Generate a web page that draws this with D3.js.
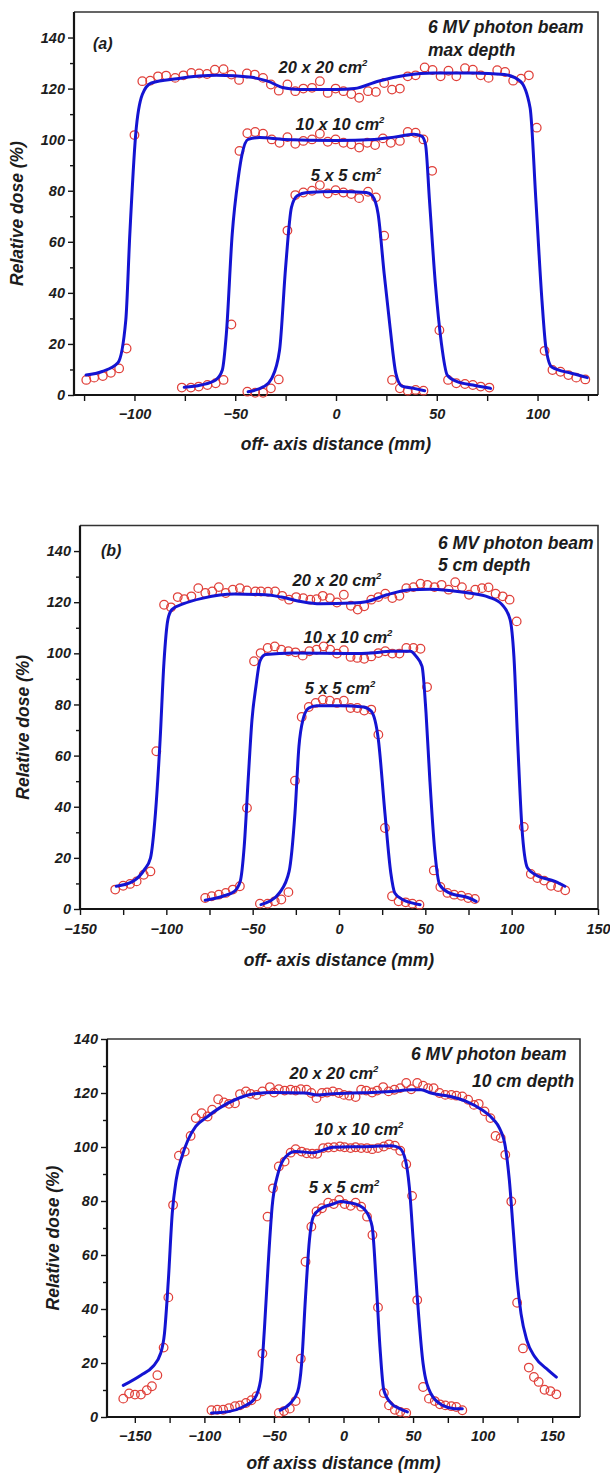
<!DOCTYPE html>
<html>
<head>
<meta charset="utf-8">
<script src="https://cdn.jsdelivr.net/npm/d3@7"></script>
<style>
  body { margin: 0; background: #fff; }
  svg text { font-family: "Liberation Sans", Arial, sans-serif; font-style: italic; font-weight: bold; fill: #1c1c1c; }
</style>
</head>
<body>
<svg id="chart" width="610" height="1474"></svg>
<script>
// ---------- data ----------
const fieldSizes = ["20 x 20", "10 x 10", "5 x 5"];
const yTickValues = [0, 20, 40, 60, 80, 100, 120, 140];
const yMinorValues = [10, 30, 50, 70, 90, 110, 130];
const xTicksA = [-100, -50, 0, 50, 100];
const xMinorA = [-125, -75, -25, 25, 75, 125];
const xTicksBC = [-150, -100, -50, 0, 50, 100, 150];
const xMinorBC = [-125, -75, -25, 25, 75, 125];

// (a) max depth — calculated profiles [mm, %]
const a20Calc = [[-124,7.8],[-116,9.2],[-108.2,12.6],[-104.3,29.3],[-102.3,63],[-99.4,102],[-96.1,117.7],[-91.6,122.2],[-78.9,123.9],[-59.3,125.2],[-41.7,124.4],[-33.9,122.9],[-26,120.3],[-18.2,119.6],[0,119.6],[9.2,120],[20.9,122.9],[34.6,125.2],[48.3,126.1],[67.9,126.1],[83.6,125.5],[91.4,122.9],[96.3,112.5],[99.2,76],[102.2,37],[104.1,18.9],[107,11],[116.8,8.5],[124.7,6.8]];
const a10Calc = [[-75.3,3.0],[-67.1,3.9],[-59.7,5.9],[-56.4,9.8],[-54.4,24],[-51.5,63],[-48.5,85],[-46.6,94.3],[-43.6,100.1],[-37.8,100.8],[-26,100.1],[0,99.7],[19,100.1],[28.8,101],[38.6,102.1],[42.5,101.4],[44.4,98.2],[46.4,76],[49.3,43.6],[52.3,20.2],[55.2,7.8],[60.1,5.2],[67.9,3.9],[76.7,2.6]];
const a5Calc = [[-43.6,1.3],[-35.8,3.3],[-31.9,6.5],[-28,17.6],[-25,50],[-22.1,73.5],[-19.2,78],[-14.3,79.3],[0,79.7],[15.1,79.3],[18,78],[20.9,70.9],[23.9,47.5],[26.8,26.7],[29.7,8.5],[32.7,3.5],[38.6,2.6],[44,1.7]];
// (a) measured points
const a20Meas = [[-123.9,5.9],[-120,6.8],[-115.7,7.4],[-111.7,8.7],[-107.6,10.4],[-103.9,18.2],[-100,101.8],[-96.1,122.9],[-92.2,123.1],[-88.3,124.8],[-84.3,125.1],[-79.8,124.2],[-75.7,125.2],[-71.8,126.1],[-67.9,125.9],[-64,125.7],[-60.1,127.4],[-55.8,127.6],[-51.9,125.5],[-48.1,123.4],[-44.2,125.9],[-40.3,125.5],[-36.2,124.2],[-32.3,121.6],[-28.4,119.2],[-24.1,121.6],[-20.2,119],[-16.2,120],[-11.9,120.3],[-8,122.9],[-4.1,118.3],[-0.2,120],[3.7,119],[7.6,117.9],[11.5,116.4],[15.9,119],[19.8,118.7],[23.9,122.2],[27.8,119.6],[31.7,120],[35.6,124.8],[39.5,125.2],[44,128.3],[47.9,127.3],[51.9,124.8],[55.8,127],[59.7,124.8],[64,128],[67.9,127.4],[71.8,125.2],[75.7,124.2],[80,127.2],[83.9,126.5],[87.9,123.1],[91.8,123.9],[95.7,125.2],[99.6,104.7],[103.5,17.3],[107.4,9.8],[111.4,9.1],[115.3,7.8],[119.2,6.8],[123.7,6.1]];
const a10Meas = [[-76.5,2.9],[-72,2.9],[-68.1,3.3],[-63.8,3.9],[-59.7,4.6],[-55.8,5.9],[-51.9,27.6],[-47.9,95.6],[-44,102.5],[-40.1,103],[-36.2,102.3],[-31.9,100.1],[-28,98.8],[-24.1,101],[-20.2,98.4],[-16.2,99.5],[-11.9,100.1],[-8,102.3],[-4.1,99.2],[-0.2,100.1],[3.7,98.8],[7.6,98.2],[11.5,96.9],[15.5,98.8],[19.4,97.9],[23.3,100.5],[27.2,98.8],[31.7,99.5],[35.6,103],[39.5,102.7],[43.4,100.1],[47.7,87.8],[51.3,25.4],[55.6,5.9],[59.7,4.6],[64,4.3],[67.9,3.9],[71.8,3.3],[76.1,2.9]];
const a5Meas = [[-44,1.3],[-40.1,0.9],[-36.2,0.9],[-32.3,2.6],[-28.4,6.1],[-24.1,64.4],[-20.2,78.3],[-16.2,79.3],[-11.9,80],[-8,82.2],[-4.1,78.9],[-0.2,80.2],[3.7,79.3],[7.6,78.7],[11.5,77.1],[15.9,79.6],[19.8,77.4],[23.9,62.4],[27.8,5.9],[31.7,2.6],[35.6,1.7],[39.5,2],[43.4,1.7]];

// (b) 5 cm depth — calculated profiles
const b20Calc = [[-129,8.9],[-119.4,10.8],[-112.7,15.4],[-109.2,19.9],[-106.3,37.5],[-103.6,66.2],[-101.4,96.2],[-99.1,113.2],[-96.8,117.1],[-90,119.4],[-78.7,121.6],[-60.6,123.2],[-42.5,122.9],[-33.4,122],[-22.1,120.3],[-10.8,119.4],[7.4,119.7],[16.4,120.3],[27.7,122.9],[41.3,124.9],[52.6,125.1],[63.9,124.6],[75.3,123.6],[86.6,122],[94.5,119],[99.1,113.2],[101.3,98.8],[103.6,63.6],[105.9,32.3],[109.2,16],[113.8,13.4],[125.1,10.8],[130.8,8.9]];
const b10Calc = [[-77.5,3.4],[-67.3,5],[-60.6,6.9],[-57.2,10.8],[-54.9,24.5],[-52.6,50.6],[-50.4,74],[-48.1,87.1],[-45.8,96.9],[-42.5,99.5],[-26.6,100.1],[7.4,99.9],[18.7,100.1],[30,100.8],[41.3,100.8],[44.7,98.8],[48.1,94.9],[50.4,76.7],[52.6,50.6],[55.4,23.2],[58.3,9.5],[63.9,6.3],[75.3,4.3],[79.4,3]];
const b5Calc = [[-45.2,1.7],[-40.2,3],[-34.5,6.3],[-28.9,14.7],[-25.5,37.5],[-23.2,63.6],[-20.9,74],[-17.5,78.6],[-13,79.5],[0.6,79.5],[14.2,79],[18.7,77.3],[22.8,66.2],[26.6,37.5],[30,14.1],[32.3,6.3],[36.8,3.7],[47,1.7]];
// (b) measured points
const b20Meas = [[-129.6,7.6],[-125,9.1],[-121,9.8],[-117.2,10.8],[-113.1,13.4],[-109.2,14.7],[-105.8,61.7],[-101.3,119],[-97.3,118],[-93.4,122],[-89.6,121.2],[-85.5,122.3],[-81.5,125.5],[-77.4,123.6],[-73.4,124.2],[-69.6,125.9],[-65.6,123.6],[-61.5,124.9],[-57.4,125.5],[-53.3,124.6],[-48.4,124.2],[-45.2,124.2],[-41.1,124.1],[-37,124.2],[-32.9,122.5],[-28.9,121],[-24.8,122],[-20.7,121.6],[-16.6,121],[-13,121.2],[-9.4,122.5],[-5.3,121.6],[-1.2,119.9],[2.8,122.9],[6.9,118.6],[10.8,117.1],[14.6,118.4],[18.7,121],[22.8,122],[26.8,123.3],[30.9,121.6],[35,122.5],[39,125.5],[43.1,125.9],[47.2,127.2],[51.2,126.8],[55.3,125.9],[59.4,126.8],[63.5,124.9],[67.3,127.8],[71.2,125.9],[75.3,122.9],[78.9,124.9],[82.8,125.5],[86.6,125.8],[90.7,123.3],[94.8,122.3],[98.8,121],[102.9,112.5],[107,32.1],[111.1,13.7],[114.9,12.1],[118.8,11.1],[122.8,9.1],[126.9,8.6],[131,7.3]];
const b10Meas = [[-77.5,4.3],[-73.7,5],[-69.6,5.6],[-65.6,6.3],[-61.5,7.6],[-57.4,8.9],[-53.3,39.5],[-49.2,96.9],[-45.4,100.1],[-41.3,102.1],[-37.2,102.7],[-33.4,101.4],[-29.3,100.8],[-25.2,100.4],[-21,99.1],[-17.1,100.8],[-13,101.4],[-8.9,102.7],[-5.1,101.4],[-1.2,99.9],[2.8,101.2],[6.7,98.6],[10.6,98.2],[14.6,97.9],[18.7,98.8],[22.8,100.1],[26.8,100.8],[30.9,99.9],[35,99.9],[39,102.1],[43.1,102.1],[47.2,101.8],[51,86.8],[54.9,15.1],[58.7,8.6],[62.8,6.3],[66.7,5.6],[70.8,5.2],[74.8,4.3],[78.7,3.9]];
const b5Meas = [[-45.8,2.1],[-41.3,2.1],[-37.2,3],[-33.4,3.7],[-29.3,6.6],[-25.5,50.2],[-21.6,75.1],[-17.5,79],[-13.5,80.6],[-9.4,81.9],[-5.3,81.5],[-1.2,80.6],[2.8,81.5],[6.7,78.6],[10.6,78.6],[14.6,77.6],[18.7,78],[22.8,68.2],[26.6,31.7],[30.7,5],[34.5,3],[38.6,2.6],[42.5,2.1],[46.6,1.7]];

// (c) 10 cm depth — calculated profiles
const c20Calc = [[-158.3,11.7],[-145.6,15.5],[-137.2,18.6],[-131.5,23.5],[-128.7,30.9],[-125.9,50.7],[-123.1,75.4],[-120.3,87.8],[-116.1,96.5],[-111.8,102.6],[-106.2,107.6],[-97.7,111.3],[-89.3,114.4],[-78,117.5],[-63.9,119.7],[-49.9,120.2],[-27.3,120],[-18.9,119.3],[-7.6,119.7],[6.5,120],[20.6,120.2],[34.6,120.6],[48.7,121.2],[55.8,121.2],[62.8,120],[76.9,118.7],[88.2,116.9],[99.4,113.8],[107.9,110.1],[112.1,107],[116.3,100.2],[119.2,87.8],[122,69.3],[124.8,50.7],[127.6,38.3],[131.8,28.4],[137.5,22.3],[147.3,17.3],[153,14.8]];
const c10Calc = [[-94.9,1.5],[-83.7,1.9],[-72.4,3.7],[-63.9,6.8],[-59.6,13.6],[-56.9,32.2],[-54.1,56.9],[-51.3,77.9],[-47,90.3],[-41.4,96.5],[-34.4,98.3],[-21.7,97.9],[-7.6,99.9],[20.6,100.2],[34.6,100.5],[40.3,99.6],[44.5,95.2],[47.3,85.3],[50.1,65.5],[53,44.5],[57.2,19.8],[62.8,8.7],[71.3,4.3],[79.7,3.1],[85.4,3.1]];
const c5Calc = [[-45.6,2.5],[-38.6,4.9],[-33,9.3],[-30.1,19.8],[-27.3,44.5],[-24.5,65.5],[-21.7,74.2],[-16,77.3],[-7.6,78.9],[-2,79.8],[3.7,79.4],[10.7,78.5],[16.3,76.1],[20.6,70.5],[23.4,50.7],[26.2,26],[29,9.9],[34.6,4.9],[40.3,3.1],[45.9,1.9]];
// (c) measured points
const c20Meas = [[-158.3,6.8],[-154.1,8.7],[-149.9,8.3],[-145.6,8.3],[-141.4,9.9],[-137.7,11.4],[-133.8,15.5],[-129.3,25.7],[-125.9,44.3],[-122.5,78.5],[-118.3,96.8],[-114.1,98.3],[-109.9,104.1],[-106.2,110.7],[-102,112.5],[-97.7,111.3],[-94.4,113.8],[-90.1,117.7],[-85.9,116.5],[-82.3,116],[-78,116.2],[-74.4,119.6],[-70.1,120.6],[-66.8,119.7],[-62.5,119.3],[-58.3,120.6],[-52.9,122.2],[-49.9,120.2],[-46.5,121.4],[-42.3,120.9],[-38,121.2],[-34.4,120.9],[-30.7,121.4],[-26.5,121.2],[-23.1,120],[-19.4,118.1],[-15.5,120],[-11.8,120.2],[-7.6,120.6],[-3.4,120],[0.3,119.3],[4.2,119],[8.7,118.5],[12.7,121.2],[16.3,120.9],[20.6,120.2],[24.2,120.9],[28.5,122.2],[32.4,120.6],[36.6,121.2],[40.8,121.8],[45.1,123.7],[48.7,121.4],[53,123.7],[57.2,122.7],[60.8,121.8],[64.8,121.8],[69,120],[73.2,119.3],[77.5,119.3],[81.1,119],[85.4,118.7],[89.6,117.5],[93.8,115.6],[97.2,116],[101.4,113.2],[105.6,110.7],[109.3,104.1],[113,103.3],[116.3,97.1],[120.6,79.8],[124.8,42.3],[129,25.4],[133.2,18.3],[136.9,14.8],[140.3,13],[144.5,10.1],[148.7,9.6],[153,8.4]];
const c10Meas = [[-94.9,2.5],[-90.7,2.7],[-86.5,2.7],[-82.3,3.3],[-78,4],[-74.4,4.3],[-70.1,5.2],[-66.2,6.2],[-62.5,7.7],[-58.3,23.5],[-54.6,74.2],[-50.7,84.7],[-46.5,92.8],[-42.3,94.6],[-38,97.9],[-34.4,99.2],[-30.1,98.3],[-26.5,97.7],[-22.5,97.5],[-18.9,97.5],[-14.6,99.6],[-11,99.8],[-6.8,99.9],[-2.5,100.2],[0.8,99.9],[5.1,99.6],[8.7,99.9],[12.7,99.6],[16.9,99.6],[20.6,99.2],[24.8,99.6],[29,100.2],[32.7,101],[36.9,100.5],[40.8,98.6],[45.1,93.6],[49.3,81.9],[53,43.3],[57.2,11.1],[61.4,6.8],[65.6,5.9],[69.3,4.7],[73.2,4.3],[77.5,4],[81.1,3.7],[85.4,2.5]];
const c5Meas = [[-46.5,1.5],[-42.8,2.2],[-38.6,3.1],[-34.4,5.9],[-30.7,21.6],[-27.3,57.5],[-23.1,70.5],[-19.4,76.1],[-15.5,77.3],[-11,79.4],[-7,78.9],[-3.1,80.4],[0.8,78.9],[5.1,78.2],[8.7,79.4],[12.7,77.9],[16.9,74.2],[20.8,67.4],[24.8,40.6],[29,8.9],[32.7,4.3],[36.9,2.7],[40.8,1.9],[45.1,1.5]];

// ---------- layout ----------
const panels = [
  {
    left: 74, right: 598, top: 12, bottom: 395, xDomain: [-130, 130], yMax: 150,
    xTicks: xTicksA, xMinor: xMinorA, xTitle: "off- axis distance (mm)",
    tag: "(a)", tagPos: [93, 49], note: ["6 MV photon beam", "max depth"], notePos: [[428, 33], [428, 56]],
    yTitleX: 23, xTickY: 419, xTitleY: 450,
    series: [[a20Calc, a20Meas, [323, 73]], [a10Calc, a10Meas, [340, 130]], [a5Calc, a5Meas, [346, 181]]]
  },
  {
    left: 80, right: 598, top: 525.5, bottom: 909, xDomain: [-150, 150], yMax: 150,
    xTicks: xTicksBC, xMinor: xMinorBC, xTitle: "off- axis distance (mm)",
    tag: "(b)", tagPos: [101, 556], note: ["6 MV photon beam", "5 cm depth"], notePos: [[438, 549], [438, 571]],
    yTitleX: 29, xTickY: 934, xTitleY: 966,
    series: [[b20Calc, b20Meas, [337, 586]], [b10Calc, b10Meas, [348, 643]], [b5Calc, b5Meas, [340, 694]]]
  },
  {
    left: 107, right: 580, top: 1039, bottom: 1417, xDomain: [-170, 170], yMax: 140,
    xTicks: xTicksBC, xMinor: xMinorBC, xTitle: "off axiss distance (mm)",
    tag: null, note: ["6 MV photon beam", "10 cm depth"], notePos: [[411, 1060], [472, 1087]],
    yTitleX: 59, xTickY: 1441, xTitleY: 1469,
    series: [[c20Calc, c20Meas, [334, 1079]], [c10Calc, c10Meas, [359, 1135]], [c5Calc, c5Meas, [344, 1193]]]
  }
];

const svg = d3.select("#chart");
const AXIS = "#141414";

function styleAxis(sel, fontSize) {
  sel.attr("font-size", fontSize).attr("font-family", null);
  sel.select(".domain").remove();
  sel.selectAll(".tick line").attr("stroke", AXIS).attr("stroke-width", 1.4);
  sel.selectAll(".tick text").attr("fill", "#1c1c1c");
}

function drawPanel(p) {
  const x = d3.scaleLinear().domain(p.xDomain).range([p.left, p.right]);
  const y = d3.scaleLinear().domain([0, p.yMax]).range([p.bottom, p.top]);
  const g = svg.append("g");

  // frame: thin top/right, heavier left/bottom
  g.append("path")
    .attr("d", `M${p.left},${p.top}H${p.right}V${p.bottom}`)
    .attr("fill", "none").attr("stroke", "#333").attr("stroke-width", 1.6);

  // y axis
  g.append("g").attr("transform", `translate(${p.left},0)`)
    .call(d3.axisLeft(y).tickValues(yTickValues).tickSize(6).tickPadding(3).tickSizeOuter(0))
    .call(s => styleAxis(s, 14.5));
  g.append("g").attr("transform", `translate(${p.left},0)`)
    .call(d3.axisLeft(y).tickValues(yMinorValues).tickSize(4).tickFormat("").tickSizeOuter(0))
    .call(s => styleAxis(s, 14.5));

  // x axis
  const xa = g.append("g").attr("transform", `translate(0,${p.bottom})`)
    .call(d3.axisBottom(x).tickValues(p.xTicks).tickSize(6).tickPadding(0).tickSizeOuter(0))
    .call(s => styleAxis(s, 14.5));
  xa.selectAll(".tick text").attr("dy", null).attr("y", p.xTickY - p.bottom);
  g.append("g").attr("transform", `translate(0,${p.bottom})`)
    .call(d3.axisBottom(x).tickValues(p.xMinor).tickSize(6).tickFormat("").tickSizeOuter(0))
    .call(s => styleAxis(s, 14.5));

  // heavy axis lines
  g.append("path")
    .attr("d", `M${p.left},${p.top}V${p.bottom}H${p.right}`)
    .attr("fill", "none").attr("stroke", AXIS).attr("stroke-width", 2.2);

  // measured points
  const line = d3.line().x(d => x(d[0])).y(d => y(d[1])).curve(d3.curveMonotoneX);
  p.series.forEach(([calc, meas]) => {
    g.append("g").selectAll("circle").data(meas).join("circle")
      .attr("cx", d => x(d[0])).attr("cy", d => y(d[1])).attr("r", 4.3)
      .attr("fill", "none").attr("stroke", "#e0403a").attr("stroke-width", 1.25);
  });
  // calculated profiles
  p.series.forEach(([calc]) => {
    g.append("path").datum(calc).attr("d", line)
      .attr("fill", "none").attr("stroke", "#1414d2").attr("stroke-width", 3)
      .attr("stroke-linejoin", "round").attr("stroke-linecap", "round");
  });

  // field size labels
  p.series.forEach(([, , pos], i) => {
    const t = g.append("text").attr("x", pos[0]).attr("y", pos[1]).attr("text-anchor", "middle").attr("font-size", 16.5);
    t.append("tspan").text(fieldSizes[i] + " cm");
    t.append("tspan").attr("font-size", 9.5).attr("dy", -7.5).text("2");
  });

  // annotations
  p.note.forEach((s, i) => {
    g.append("text").attr("x", p.notePos[i][0]).attr("y", p.notePos[i][1]).attr("font-size", 17.5).text(s);
  });
  if (p.tag) g.append("text").attr("x", p.tagPos[0]).attr("y", p.tagPos[1]).attr("font-size", 16).text(p.tag);

  // axis titles
  g.append("text").attr("x", (p.left + p.right) / 2).attr("y", p.xTitleY)
    .attr("text-anchor", "middle").attr("font-size", 17.5).text(p.xTitle);
  g.append("text")
    .attr("transform", `translate(${p.yTitleX},${(p.top + p.bottom) / 2 + 10}) rotate(-90)`)
    .attr("text-anchor", "middle").attr("font-size", 17.5).text("Relative dose (%)");
}

panels.forEach(drawPanel);
</script>
</body>
</html>
